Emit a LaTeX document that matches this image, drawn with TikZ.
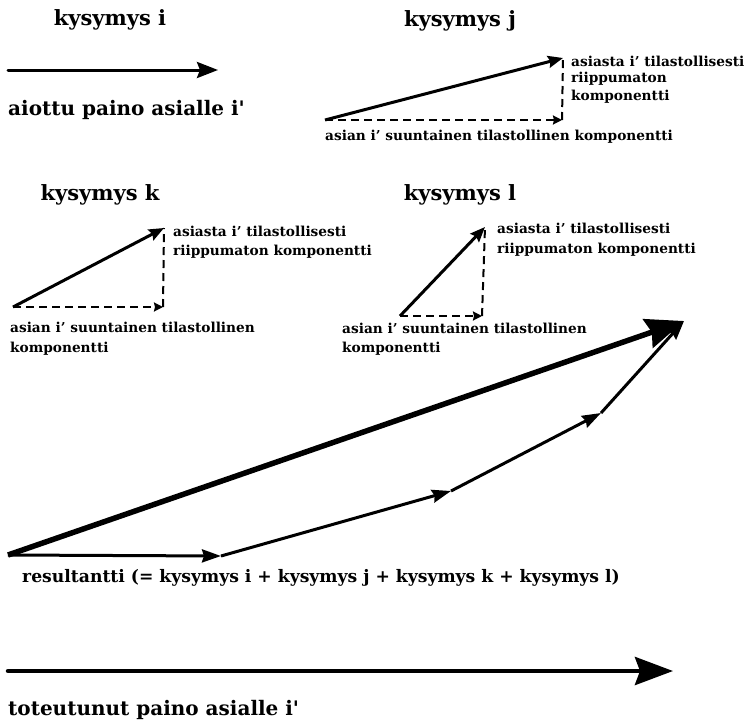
\documentclass[tikz,border=0pt]{standalone}
\usepackage{fontspec}
\setmainfont{DejaVu Serif}
\usetikzlibrary{arrows.meta}
\begin{document}
\begin{tikzpicture}[x=1pt,y=-1pt,
  ttl/.style={font=\bfseries\fontsize{21}{24}\selectfont, inner sep=0pt},
  big/.style={font=\bfseries\fontsize{20}{23}\selectfont, inner sep=0pt, anchor=west},
  lbl/.style={font=\bfseries\fontsize{13.7}{16}\selectfont, inner sep=0pt, anchor=west},
  res/.style={font=\bfseries\fontsize{17.2}{19}\selectfont, inner sep=0pt, anchor=west},
  vec/.style={line width=3pt, -{Stealth[length=15pt,width=12pt,inset=2pt]}},
  comp/.style={line width=2pt, dash pattern=on 8pt off 5pt},
  comph/.style={comp, -{Stealth[length=9pt,width=9pt,inset=1pt]}},
  chain/.style={line width=3pt, -{Stealth[length=19pt,width=13pt,inset=2pt]}},
  total/.style={line width=5.5pt, -{Stealth[length=38pt,width=30pt,inset=4pt]}},
  weight/.style={line cap=round},
]
\useasboundingbox (0,0) rectangle (746,725);

% ---- kysymys i ----
\node[ttl] (ti) at (110,20) {kysymys i};
\coordinate (i0) at (8,70);
\coordinate (i1) at (218,70);
\draw[weight, line width=3pt, -{Stealth[length=21pt,width=16pt,inset=3pt]}] (i0) -- (i1);
\node[big] (aiottu) at (8,110) {aiottu paino asialle i\textquotesingle};

% ---- kysymys j ----
\node[ttl] (tj) at (460,21) {kysymys j};
\coordinate (j0) at (325,120);
\coordinate (jc) at (562,120);
\coordinate (j1) at (563,58);
\draw[comph] (j0) -- (jc);
\draw[comp] (jc) -- (j1);
\draw[vec] (j0) -- (j1);
\node[lbl] (ja1) at (571,61) {asiasta i' tilastollisesti};
\node[lbl] (ja2) at (571,79) {riippumaton};
\node[lbl] (ja3) at (571,97) {komponentti};
\node[lbl] (jb) at (325,137) {asian i' suuntainen tilastollinen komponentti};

% ---- kysymys k ----
\node[ttl] (tk) at (100,195) {kysymys k};
\coordinate (k0) at (13,307);
\coordinate (kc) at (163,307);
\coordinate (k1) at (164,228);
\draw[comph] (k0) -- (kc);
\draw[comp] (kc) -- (k1);
\draw[vec] (k0) -- (k1);
\node[lbl] (ka1) at (173,231) {asiasta i' tilastollisesti};
\node[lbl] (ka2) at (173,252) {riippumaton komponentti};
\node[lbl] (kb1) at (10,327) {asian i' suuntainen tilastollinen};
\node[lbl] (kb2) at (10,349) {komponentti};

% ---- kysymys l ----
\node[ttl] (tl) at (460,195) {kysymys l};
\coordinate (l0) at (400,316);
\coordinate (lc) at (482,316);
\coordinate (l1) at (485,227);
\draw[comph] (l0) -- (lc);
\draw[comp] (lc) -- (l1);
\draw[vec] (l0) -- (l1);
\node[lbl] (la1) at (497,228) {asiasta i' tilastollisesti};
\node[lbl] (la2) at (497,250) {riippumaton komponentti};
\node[lbl] (lb1) at (342,328) {asian i' suuntainen tilastollinen};
\node[lbl] (lb2) at (342,349) {komponentti};

% ---- resultant ----
\coordinate (a0) at (8,555);
\coordinate (a1) at (221,556);
\coordinate (a2) at (451,491);
\coordinate (a3) at (601,413);
\coordinate (a4) at (684,321);
\draw[chain] (a0) -- (a1);
\draw[chain] (a1) -- (a2);
\draw[chain] (a2) -- (a3);
\draw[chain] (a3) -- (a4);
\draw[total] (a0) -- (a4);
\node[res] (res) at (22,578) {resultantti (= kysymys i + kysymys j + kysymys k + kysymys l)};

% ---- toteutunut ----
\coordinate (t0) at (8,671);
\coordinate (t1) at (673,671);
\draw[weight, line width=4.5pt, -{Stealth[length=38pt,width=28pt,inset=5pt]}] (t0) -- (t1);
\node[big] (toteutunut) at (8,710) {toteutunut paino asialle i\textquotesingle};
\end{tikzpicture}
\end{document}
